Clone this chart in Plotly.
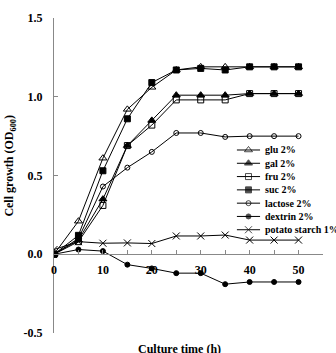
import plotly.graph_objects as go

time = [0, 5, 10, 15, 20, 25, 30, 35, 40, 45, 50]
glu = [0.0, 0.21, 0.61, 0.92, 1.06, 1.17, 1.19, 1.19, 1.19, 1.19, 1.19]
gal = [0.0, 0.09, 0.35, 0.69, 0.85, 1.01, 1.01, 1.01, 1.02, 1.02, 1.02]
fru = [0.0, 0.08, 0.31, 0.69, 0.82, 0.98, 0.98, 0.98, 1.02, 1.02, 1.02]
suc = [0.0, 0.12, 0.53, 0.86, 1.09, 1.17, 1.18, 1.17, 1.19, 1.19, 1.19]
lactose = [0.0, 0.10, 0.43, 0.55, 0.65, 0.77, 0.77, 0.745, 0.75, 0.75, 0.75]
dextrin = [0.0, 0.03, 0.02, -0.066, -0.09, -0.12, -0.12, -0.19, -0.176, -0.176, -0.176]
potato = [0.03, 0.08, 0.07, 0.072, 0.068, 0.116, 0.116, 0.122, 0.09, 0.09, 0.09]

names = ["glu 2%", "gal 2%", "fru 2%", "suc 2%", "lactose 2%", "dextrin 2%", "potato starch 1%"]
series = [glu, gal, fru, suc, lactose, dextrin, potato]
symbols = ["triangle-up-open", "triangle-up", "square-open", "square",
           "circle-open", "circle", "x-thin"]
sizes = [7, 7, 6, 6, 5, 5, 7]

x_ticks = [0, 5, 10, 15, 20, 25, 30, 35, 40, 45, 50, 55]
x_ticktext = ["0", "", "10", "", "20", "", "30", "", "40", "", "50", ""]
y_ticks = [-0.5, 0.0, 0.5, 1.0, 1.5]
y_ticktext = ["-0.5", "0.0", "0.5", "1.0", "1.5"]

FONT = "Liberation Serif"
fig = go.Figure()

for name, ys, sym, sz in zip(names, series, symbols, sizes):
    fig.add_trace(go.Scatter(
        x=time, y=ys, mode="lines+markers", name=name, showlegend=False,
        line=dict(color="black", width=1),
        marker=dict(symbol=sym, size=sz, color="black",
                    line=dict(color="black", width=1)),
    ))

# manual legend (paper-fraction layout on an overlay axis)
leg_x0, leg_xm, leg_x1, leg_tx = 0.680, 0.723, 0.766, 0.777
leg_y0, leg_dy = 0.581, 0.0422
for i, (name, sym, sz) in enumerate(zip(names, symbols, sizes)):
    yy = leg_y0 - i * leg_dy
    fig.add_trace(go.Scatter(
        x=[leg_x0, leg_xm, leg_x1], y=[yy, yy, yy], xaxis="x2", yaxis="y2",
        mode="lines+markers", showlegend=False, hoverinfo="skip",
        line=dict(color="black", width=1),
        marker=dict(symbol=sym, size=[0, sz, 0], color="black",
                    line=dict(color="black", width=1)),
    ))
    fig.add_annotation(x=leg_tx, y=yy, xref="paper", yref="paper", text=name,
                       showarrow=False, xanchor="left", yanchor="middle",
                       font=dict(family=FONT, size=10, color="black", weight="bold"))

fig.add_annotation(x=-0.164, y=0.531, xref="paper", yref="paper",
                   text="Cell growth (OD<sub>600</sub>)", textangle=-90,
                   showarrow=False, xanchor="center", yanchor="middle",
                   font=dict(family=FONT, size=12, color="black", weight="bold"))
fig.add_annotation(x=0.465, y=-0.05, xref="paper", yref="paper",
                   text="Culture time (h)", showarrow=False,
                   xanchor="center", yanchor="middle",
                   font=dict(family=FONT, size=12, color="black", weight="bold"))

axis_col = "#888888"
fig.update_layout(
    width=336, height=353,
    margin=dict(l=54, r=13, t=11, b=20),
    paper_bgcolor="white", plot_bgcolor="white",
    showlegend=False,
    font=dict(family=FONT, size=12, color="black", weight="bold"),
    xaxis=dict(range=[0, 55], anchor="free", position=0.25,
               showline=True, linecolor=axis_col, linewidth=1,
               ticks="inside", ticklen=4, tickcolor=axis_col,
               tickvals=x_ticks, ticktext=x_ticktext, ticklabelstandoff=4,
               showgrid=False, zeroline=False,
               tickfont=dict(family=FONT, size=12, color="black", weight="bold")),
    yaxis=dict(range=[-0.5, 1.5], showline=True, linecolor=axis_col, linewidth=1,
               ticks="inside", ticklen=4, tickcolor=axis_col,
               tickvals=y_ticks, ticktext=y_ticktext, ticklabelstandoff=8,
               showgrid=False, zeroline=False,
               tickfont=dict(family=FONT, size=12, color="black", weight="bold")),
    xaxis2=dict(range=[0, 1], overlaying="x", visible=False, domain=[0, 1]),
    yaxis2=dict(range=[0, 1], overlaying="y", visible=False, domain=[0, 1]),
)

fig.write_html("out.html")
